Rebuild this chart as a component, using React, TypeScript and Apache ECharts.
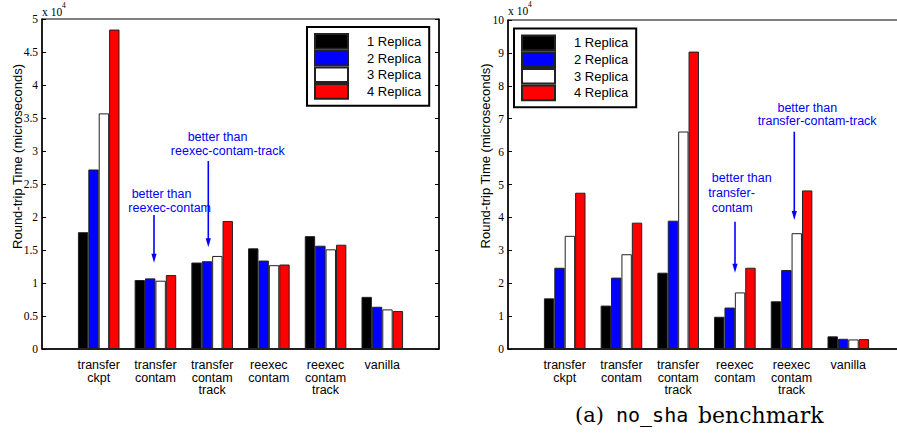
import React, { useEffect, useRef } from 'react';
import * as echarts from 'echarts';

// Category labels (padded with empty slots at both ends, like xlim 0..7)
const categories = ['', 'transfer\nckpt', 'transfer\ncontam', 'transfer\ncontam\ntrack', 'reexec\ncontam', 'reexec\ncontam\ntrack', 'vanilla', ''];
const seriesNames = ['1 Replica', '2 Replica', '3 Replica', '4 Replica'];
const seriesColors = ['#000000', '#0000ff', '#ffffff', '#ff0000'];

// Left chart, round-trip time in units of 10^4 microseconds
const leftRep1 = [1.77, 1.045, 1.31, 1.525, 1.71, 0.79];
const leftRep2 = [2.72, 1.07, 1.33, 1.34, 1.565, 0.64];
const leftRep3 = [3.57, 1.035, 1.41, 1.27, 1.51, 0.6];
const leftRep4 = [4.84, 1.12, 1.94, 1.28, 1.58, 0.575];

// Right chart (no_sha benchmark), units of 10^4 microseconds
const rightRep1 = [1.54, 1.32, 2.32, 0.98, 1.45, 0.385];
const rightRep2 = [2.47, 2.17, 3.9, 1.26, 2.4, 0.31];
const rightRep3 = [3.44, 2.88, 6.61, 1.72, 3.52, 0.29];
const rightRep4 = [4.75, 3.84, 9.04, 2.47, 4.82, 0.3];

const leftTicks = { min: 0, max: 5, interval: 0.5 };
const rightTicks = { min: 0, max: 10, interval: 1 };

const pad = (arr: number[]) => ['-', ...arr, '-'];

const BLUE = '#0000ff';
const SANS = 'Liberation Sans';
const SERIF = 'Liberation Serif';

function txt(text: string, x: number, y: number, align = 'center', extra: any = {}) {
  return {
    type: 'text',
    x,
    y,
    style: {
      text,
      fill: BLUE,
      fontFamily: SANS,
      fontSize: 12.5,
      align,
      verticalAlign: 'middle',
      ...extra,
    },
  };
}

function arrow(x: number, y1: number, y2: number) {
  return [
    { type: 'line', shape: { x1: x, y1, x2: x, y2: y2 - 6 }, style: { stroke: BLUE, lineWidth: 1.6 } },
    {
      type: 'polygon',
      shape: { points: [[x - 2.6, y2 - 9], [x + 2.6, y2 - 9], [x, y2]] },
      style: { fill: BLUE },
    },
  ];
}

export default function App() {
  const ref = useRef<HTMLDivElement>(null);

  useEffect(() => {
    if (!ref.current) return;
    const chart = echarts.init(ref.current, null, { renderer: 'svg' });

    const xAxisBase = (gridIndex: number) => ({
      type: 'category',
      gridIndex,
      data: categories,
      boundaryGap: false,
      axisTick: { show: false },
      axisLine: { show: true, lineStyle: { color: '#000', width: 1.5 } },
      axisLabel: {
        interval: 0,
        fontFamily: SANS,
        fontSize: 12.5,
        color: '#000',
        lineHeight: 12.5,
        margin: 10,
      },
      splitLine: { show: false },
    });

    const yAxisBase = (gridIndex: number, ticks: any, position: string, labels: boolean) => ({
      type: 'value',
      gridIndex,
      position,
      min: ticks.min,
      max: ticks.max,
      interval: ticks.interval,
      axisLine: { show: true, lineStyle: { color: '#000', width: 1.5 } },
      axisTick: { show: true, inside: true, length: 4, lineStyle: { color: '#000', width: 1 } },
      axisLabel: {
        show: labels,
        fontFamily: SERIF,
        fontSize: 11.5,
        color: '#000',
        margin: 4,
        formatter: (v: number) => String(v),
      },
      splitLine: { show: false },
    });

    const makeSeries = (data: number[][], xi: number, yi: number) =>
      data.map((d, i) => ({
        type: 'bar',
        name: seriesNames[i],
        xAxisIndex: xi,
        yAxisIndex: yi,
        data: pad(d),
        barWidth: 10.4,
        barGap: '0%',
        itemStyle: { color: seriesColors[i], borderColor: '#222', borderWidth: 1 },
        emphasis: { disabled: true },
      }));

    const legendBase = (left: number, top: number) => ({
      left,
      top,
      orient: 'vertical',
      data: seriesNames,
      icon: 'rect',
      itemWidth: 33,
      itemHeight: 14.7,
      itemGap: 0,
      padding: [6, 8, 6, 7],
      borderColor: '#000',
      borderWidth: 2,
      backgroundColor: '#fff',
      selectedMode: false,
      textStyle: { fontFamily: SANS, fontSize: 13, color: '#000', padding: [0, 0, 0, 14] },
    });

    const option: any = {
      animation: false,
      backgroundColor: '#fff',
      grid: [
        { left: 42, top: 19, width: 397, height: 330, show: true, borderColor: '#000', borderWidth: 1, backgroundColor: 'transparent' },
        { left: 508, top: 20, width: 397, height: 329, show: true, borderColor: '#000', borderWidth: 1, backgroundColor: 'transparent' },
      ],
      xAxis: [xAxisBase(0), xAxisBase(1)],
      yAxis: [
        yAxisBase(0, leftTicks, 'left', true),
        yAxisBase(0, leftTicks, 'right', false),
        yAxisBase(1, rightTicks, 'left', true),
        yAxisBase(1, rightTicks, 'right', false),
      ],
      legend: [legendBase(307, 27), legendBase(514, 28.5)],
      series: [
        ...makeSeries([leftRep1, leftRep2, leftRep3, leftRep4], 0, 0),
        ...makeSeries([rightRep1, rightRep2, rightRep3, rightRep4], 1, 2),
      ],
      graphic: {
        elements: [
          // y-axis titles
          { ...txt('Round-trip Time (microseconds)', 17, 156.5, 'center', { fill: '#000', fontSize: 13 }), rotation: Math.PI / 2 },
          { ...txt('Round-trip Time (microseconds)', 485, 156, 'center', { fill: '#000', fontSize: 13 }), rotation: Math.PI / 2 },
          // exponent labels
          { type: 'text', x: 42, y: 12, style: { text: 'x 10', fill: '#000', fontFamily: SERIF, fontSize: 11.5, align: 'left', verticalAlign: 'middle' } },
          { type: 'text', x: 62, y: 5, style: { text: '4', fill: '#000', fontFamily: SERIF, fontSize: 7.5, align: 'left', verticalAlign: 'middle' } },
          { type: 'text', x: 508, y: 11, style: { text: 'x 10', fill: '#000', fontFamily: SERIF, fontSize: 11.5, align: 'left', verticalAlign: 'middle' } },
          { type: 'text', x: 528, y: 4, style: { text: '4', fill: '#000', fontFamily: SERIF, fontSize: 7.5, align: 'left', verticalAlign: 'middle' } },
          // left annotations
          txt('better than', 217.5, 137.3),
          txt('reexec-contam-track', 227.8, 150.7),
          ...arrow(208.3, 161, 247.3),
          txt('better than', 161.5, 194.3),
          txt('reexec-contam', 169.7, 207.5),
          ...arrow(154, 215, 262.7),
          // right annotations
          txt('better than', 807.3, 108.3),
          txt('transfer-contam-track', 817.2, 120.7),
          ...arrow(794.3, 131.7, 220),
          txt('better than', 741.7, 178.3),
          txt('transfer-', 708.3, 192.7, 'left'),
          txt('contam', 711.7, 207.8, 'left'),
          ...arrow(735, 221.7, 272.7),
          // caption
          { type: 'text', x: 575, y: 415, style: { text: '(a)', fill: '#000', fontFamily: 'DejaVu Serif', fontSize: 21, align: 'left', verticalAlign: 'middle' } },
          { type: 'text', x: 616, y: 415, style: { text: 'no_sha', fill: '#000', fontFamily: 'DejaVu Sans Mono', fontSize: 20, align: 'left', verticalAlign: 'middle' } },
          { type: 'text', x: 698, y: 415, style: { text: 'benchmark', fill: '#000', fontFamily: 'DejaVu Serif', fontSize: 22, align: 'left', verticalAlign: 'middle' } },
        ],
      },
    };

    chart.setOption(option);
    return () => chart.dispose();
  }, []);

  return (
    <div style={{ position: 'absolute', left: 0, top: 0, width: 897, height: 434, overflow: 'hidden', background: '#fff' }}>
      <div ref={ref} style={{ width: 912, height: 434 }} />
    </div>
  );
}
